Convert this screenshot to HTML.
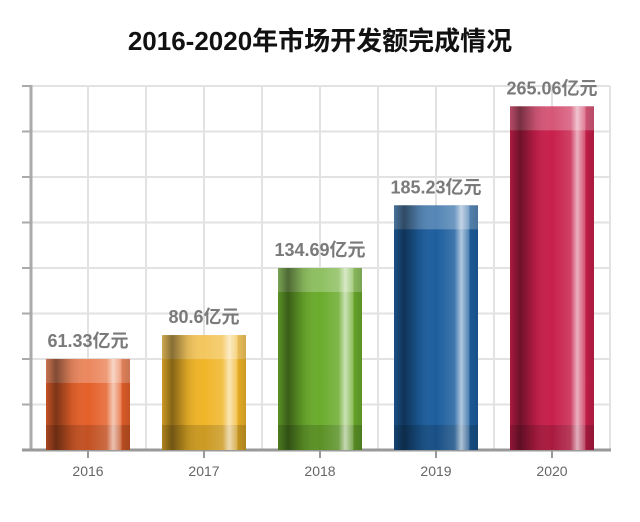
<!DOCTYPE html>
<html><head><meta charset="utf-8">
<style>
body{margin:0;background:#fff;width:640px;height:522px;overflow:hidden;font-family:"Liberation Sans","Noto Sans CJK SC",sans-serif;}
#title{position:absolute;left:0;top:21px;width:640px;text-align:center;font-size:26px;font-weight:bold;color:#111;}
</style></head>
<body>
<div id="title">2016-2020年市场开发额完成情况</div>
<svg id="chart" width="640" height="522" style="position:absolute;left:0;top:0"></svg>
<script>
const categories=["2016","2017","2018","2019","2020"];
const values=[61.33,80.6,134.69,185.23,265.06];
const valueLabels=["61.33亿元","80.6亿元","134.69亿元","185.23亿元","265.06亿元"];
const colors=["#e5602a","#f0b528","#6aab2c","#1d5e9e","#c81f4b"];
const NS="http://www.w3.org/2000/svg";
const svg=document.getElementById('chart');
const base=450, x0=30, step=116, barW=84;
function yScale(v){return base-(15+1.24*v);}
function xScale(i){return 88+i*step;}
function mk(t,a,p){const e=document.createElementNS(NS,t);for(const k in a)e.setAttribute(k,a[k]);(p||svg).appendChild(e);return e;}
const defs=mk('defs',{});
for(let k=0;k<=8;k++){const y=86+k*45.5;
const g=mk('line',{x1:22,x2:610,y1:y,y2:y,stroke:'#e2e2e2','stroke-width':2});

mk('line',{x1:22,x2:31,y1:y,y2:y,stroke:'#aaa','stroke-width':2});}
for(let k=1;k<=10;k++){const x=x0+k*58;
const g=mk('line',{x1:x,x2:x,y1:86,y2:450,stroke:'#e2e2e2','stroke-width':2});
}
const ax=mk('line',{x1:31,x2:31,y1:85,y2:451,stroke:'#aaa','stroke-width':3});

const bx=mk('line',{x1:22,x2:611,y1:450,y2:450,stroke:'#999','stroke-width':3});

const sg=mk('linearGradient',{id:'shine',x1:0,x2:1,y1:0,y2:0},defs);
[[0,'#000',0.15],[0.12,'#000',0.45],[0.3,'#000',0.1],[0.5,'#fff',0],[0.72,'#fff',0.15],[0.8,'#fff',0.65],[0.9,'#fff',0.2],[0.9,'#000',0.05],[1,'#000',0.15]].forEach(s=>mk('stop',{offset:s[0],'stop-color':s[1],'stop-opacity':s[2]},sg));
categories.forEach((c,i)=>{
 const cx=xScale(i), top=yScale(values[i]), x=cx-barW/2, h=base-top;
 const g=mk('g',{});
 
 
 mk('rect',{x:x,y:top,width:barW,height:h,fill:colors[i]},g);
 mk('rect',{x:x,y:top,width:barW,height:24,fill:'#fff','fill-opacity':0.25},g);
 mk('rect',{x:x,y:base-25,width:barW,height:25,fill:'#000','fill-opacity':0.15},g);
 mk('rect',{x:x,y:top,width:barW,height:h,fill:'url(#shine)'},g);
 const t=mk('text',{x:cx,y:top-12,'text-anchor':'middle','font-size':18,'font-weight':'600',fill:'#7a7a7a'});
 t.textContent=valueLabels[i];
 
 
 mk('line',{x1:cx,x2:cx,y1:451,y2:458,stroke:'#999','stroke-width':2});
 const l=mk('text',{x:cx,y:476,'text-anchor':'middle','font-size':14,fill:'#666'});
 l.textContent=c;
 
 
});
</script>
</body></html>
